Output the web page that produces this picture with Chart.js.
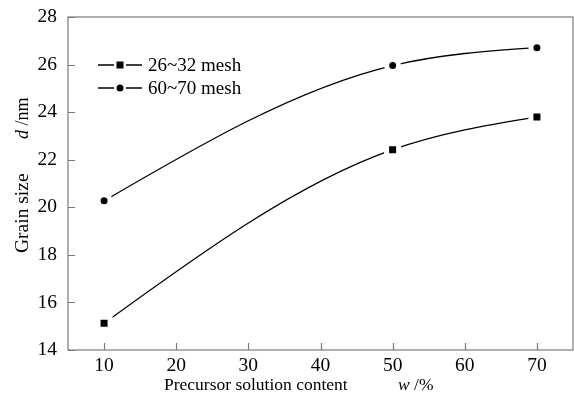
<!DOCTYPE html>
<html>
<head>
<meta charset="utf-8">
<script src="https://cdn.jsdelivr.net/npm/chart.js@4/dist/chart.umd.min.js"></script>
<style>
  html, body { margin: 0; padding: 0; background: #fff; overflow: hidden; }
  #wrap { width: 574px; height: 400px; position: relative; }
  #wrap canvas { display: block; }
</style>
</head>
<body>
<div id="wrap"><canvas id="grainChart"></canvas></div>
<script>
// precursor solution content w /%
const contents = [10, 50, 70];
// grain size d /nm for each sieve fraction
const mesh2632 = [15.12, 22.42, 23.8];
const mesh6070 = [20.27, 25.96, 26.71];
const seriesNames = ['26~32 mesh', '60~70 mesh'];
const xTicks = [10, 20, 30, 40, 50, 60, 70];
const yTicks = [14, 16, 18, 20, 22, 24, 26, 28];

const FONT = '"Liberation Serif", "Times New Roman", serif';
const AXIS_GREY = '#7a7a7a';

// replace chart.js bezier handles with a natural cubic spline (like the original plot)
const naturalSpline = {
    id: 'naturalSpline',
    beforeDatasetsDraw(chart) {
        chart.data.datasets.forEach((ds, di) => {
            const meta = chart.getDatasetMeta(di);
            meta.dataset.updateControlPoints(chart.chartArea, meta.iAxis);
            const pts = meta.data;
            const n = pts.length;
            if (n < 3) return;
            const xs = pts.map(p => p.x);
            const ys = pts.map(p => p.y);
            const h = [], d = [];
            for (let i = 0; i < n - 1; i++) {
                h[i] = xs[i + 1] - xs[i];
                d[i] = (ys[i + 1] - ys[i]) / h[i];
            }
            // solve tridiagonal system for second derivatives, M[0] = M[n-1] = 0
            const M = new Array(n).fill(0);
            const cp = [], rp = [];
            for (let i = 1; i < n - 1; i++) {
                const a = h[i - 1], b = 2 * (h[i - 1] + h[i]), c = h[i];
                const r = 6 * (d[i] - d[i - 1]);
                const den = b - (i > 1 ? a * cp[i - 1] : 0);
                cp[i] = c / den;
                rp[i] = (r - (i > 1 ? a * rp[i - 1] : 0)) / den;
            }
            for (let i = n - 2; i >= 1; i--) {
                M[i] = rp[i] - (i < n - 2 ? cp[i] * M[i + 1] : 0);
            }
            const m = [];
            for (let i = 0; i < n - 1; i++) m[i] = d[i] - h[i] * (2 * M[i] + M[i + 1]) / 6;
            m[n - 1] = d[n - 2] + h[n - 2] * (M[n - 2] + 2 * M[n - 1]) / 6;
            for (let i = 0; i < n - 1; i++) {
                pts[i].cp2x = xs[i] + h[i] / 3;
                pts[i].cp2y = ys[i] + m[i] * h[i] / 3;
                pts[i + 1].cp1x = xs[i + 1] - h[i] / 3;
                pts[i + 1].cp1y = ys[i + 1] - m[i + 1] * h[i] / 3;
            }
        });
    }
};

// frame, inward tick marks, axis titles and the legend
const decor = {
    id: 'decor',
    afterDraw(chart) {
        const ctx = chart.ctx;
        const a = chart.chartArea;
        const xs = chart.scales.x;
        const ys = chart.scales.y;
        ctx.save();
        ctx.strokeStyle = AXIS_GREY;
        ctx.lineWidth = 1.2;
        ctx.strokeRect(a.left, a.top, a.right - a.left, a.bottom - a.top);
        ctx.beginPath();
        xTicks.forEach(v => {
            const px = Math.round(xs.getPixelForValue(v)) + 0.5;
            ctx.moveTo(px, a.bottom);
            ctx.lineTo(px, a.bottom - 7);
        });
        yTicks.forEach(v => {
            const py = Math.round(ys.getPixelForValue(v)) + 0.5;
            ctx.moveTo(a.left, py);
            ctx.lineTo(a.left + 7, py);
        });
        ctx.stroke();

        // x title
        ctx.fillStyle = '#000';
        ctx.textBaseline = 'middle';
        ctx.textAlign = 'left';
        ctx.font = '17.5px ' + FONT;
        ctx.fillText('Precursor solution content', 164, 385);
        ctx.font = 'italic 17.5px ' + FONT;
        ctx.fillText('w', 398, 385);
        const ww = ctx.measureText('w').width;
        ctx.font = '17.5px ' + FONT;
        ctx.fillText(' /%', 398 + ww, 385);

        // y title (rotated)
        ctx.save();
        ctx.translate(23, 253);
        ctx.rotate(-Math.PI / 2);
        ctx.font = '19.5px ' + FONT;
        ctx.fillText('Grain size', 0, 0);
        ctx.font = 'italic 18px ' + FONT;
        ctx.fillText('d', 114, 0);
        const dw = ctx.measureText('d').width;
        ctx.font = '18px ' + FONT;
        ctx.fillText(' /nm', 114 + dw, 0);
        ctx.restore();

        // legend
        chart.data.datasets.forEach((ds, i) => {
            const y = 65 + i * 23;
            ctx.strokeStyle = '#000';
            ctx.lineWidth = 1.3;
            ctx.beginPath();
            ctx.moveTo(98, y); ctx.lineTo(114, y);
            ctx.moveTo(126, y); ctx.lineTo(142, y);
            ctx.stroke();
            ctx.fillStyle = '#000';
            if (ds.pointStyle === 'rect') {
                ctx.fillRect(116.5, y - 3.5, 7, 7);
            } else {
                ctx.beginPath();
                ctx.arc(120, y, 3.5, 0, Math.PI * 2);
                ctx.fill();
            }
            ctx.font = '19px ' + FONT;
            ctx.textAlign = 'left';
            ctx.fillText(ds.label, 148, y + 1);
        });
        ctx.restore();
    }
};

const toPoints = vals => contents.map((c, i) => ({ x: c, y: vals[i] }));

new Chart(document.getElementById('grainChart'), {
    type: 'line',
    data: {
        datasets: [
            {
                label: seriesNames[0],
                data: toPoints(mesh2632),
                borderColor: '#000',
                borderWidth: 1.3,
                tension: 0.4,
                pointStyle: 'rect',
                pointRadius: 8.5,
                pointBackgroundColor: '#000',
                pointBorderColor: '#fff',
                pointBorderWidth: 5
            },
            {
                label: seriesNames[1],
                data: toPoints(mesh6070),
                borderColor: '#000',
                borderWidth: 1.3,
                tension: 0.4,
                pointStyle: 'circle',
                pointRadius: 6,
                pointBackgroundColor: '#000',
                pointBorderColor: '#fff',
                pointBorderWidth: 5
            }
        ]
    },
    options: {
        responsive: true,
        maintainAspectRatio: false,
        animation: false,
        events: [],
        layout: { autoPadding: false, padding: { top: 17, right: 1, left: 0, bottom: 0 } },
        plugins: {
            legend: { display: false },
            tooltip: { enabled: false }
        },
        scales: {
            x: {
                type: 'linear',
                min: 5,
                max: 75,
                afterBuildTicks: s => { s.ticks = xTicks.map(v => ({ value: v })); },
                afterFit: s => { s.height = 50; s.paddingLeft = 0; s.paddingRight = 0; },
                grid: { display: false, drawTicks: false },
                border: { display: false },
                ticks: {
                    padding: 4,
                    color: '#000',
                    font: { family: FONT, size: 19.5 }
                }
            },
            y: {
                min: 14,
                max: 28,
                afterBuildTicks: s => { s.ticks = yTicks.map(v => ({ value: v })); },
                afterFit: s => { s.width = 68; s.paddingTop = 0; s.paddingBottom = 0; },
                grid: { display: false, drawTicks: false },
                border: { display: false },
                ticks: {
                    padding: 11,
                    color: '#000',
                    font: { family: FONT, size: 19.5 }
                }
            }
        }
    },
    plugins: [naturalSpline, decor]
});
</script>
</body>
</html>
